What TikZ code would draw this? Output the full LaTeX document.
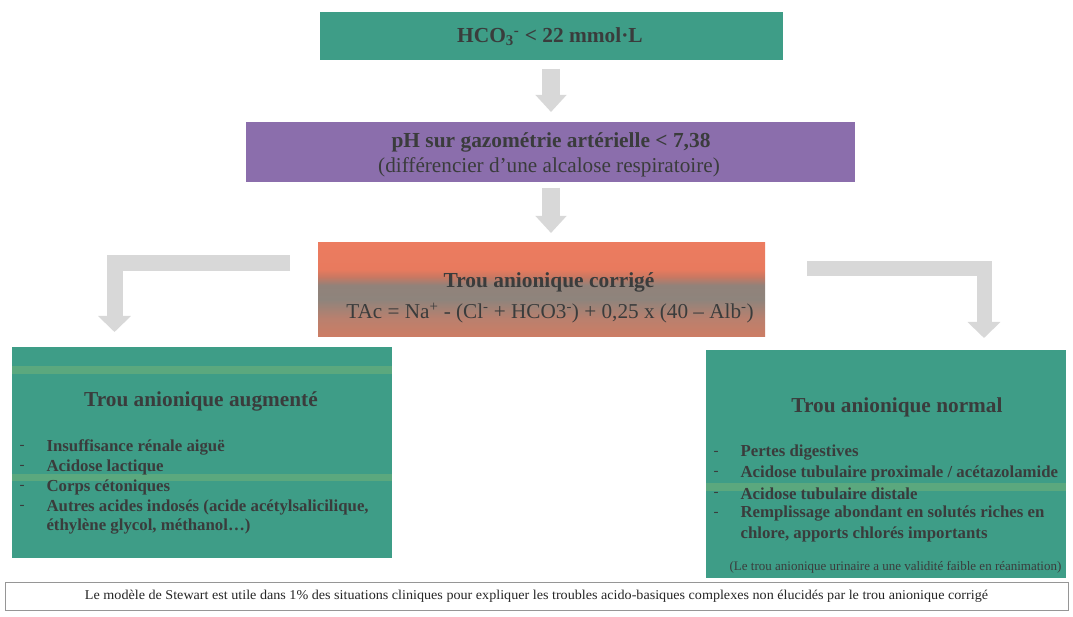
\documentclass[tikz,border=0pt]{standalone}
\usepackage{fontspec}
\setmainfont{Liberation Serif}
\usetikzlibrary{arrows.meta,positioning}
\definecolor{teal1}{RGB}{62,157,135}
\definecolor{band}{RGB}{115,178,120}
\definecolor{purp}{RGB}{139,110,172}
\definecolor{txt}{RGB}{58,60,60}
\definecolor{arrowgray}{RGB}{216,216,216}
\definecolor{borderg}{RGB}{150,150,150}
\definecolor{sh0}{RGB}{205,125,100}
\definecolor{sh1}{RGB}{185,128,110}
\definecolor{sh2}{RGB}{142,132,124}
\definecolor{sh3}{RGB}{145,130,122}
\definecolor{sh4}{RGB}{200,120,98}
\definecolor{sh5}{RGB}{232,122,94}
\definecolor{sh6}{RGB}{236,124,96}
\pgfdeclareverticalshading{tacshade}{100bp}{%
  color(0bp)=(sh0);
  color(25bp)=(sh0);
  color(35bp)=(sh1);
  color(45bp)=(sh2);
  color(52.5bp)=(sh3);
  color(57bp)=(sh4);
  color(61bp)=(sh5);
  color(75bp)=(sh6);
  color(100bp)=(sh6)}
\begin{document}
\begin{tikzpicture}[x=1pt,y=-1pt,
  box/.style={draw=none,inner sep=0pt,outer sep=0pt,text=txt},
  blockarrow/.style={draw=arrowgray,line width=18pt,line join=miter,
    -{Triangle[width=30pt,length=17pt]}},
  sidearrow/.style={draw=arrowgray,line width=16pt,line join=miter,
    -{Triangle[width=32pt,length=16pt]}},
  ttl/.style={font=\fontsize{21.4}{24}\selectfont\bfseries,text=txt},
  sub/.style={font=\fontsize{21.2}{24}\selectfont,text=txt},
  item/.style={font=\fontsize{16.8}{20}\selectfont\bfseries,text=txt,anchor=west},
  dashmark/.style={font=\fontsize{15}{20}\selectfont,text=txt,anchor=west},
  bigttl/.style={font=\fontsize{21.3}{24}\selectfont\bfseries,text=txt}]
\useasboundingbox (0,0) rectangle (1073,617);
\fill[white] (0,0) rectangle (1073,617);

% Box 1
\node[box,fill=teal1,minimum width=463pt,minimum height=48pt] (b1) at (551.5,36) {};
\node[ttl] (t1) at (550,37) {HCO\textsubscript{3}\textsuperscript{-} < 22 mmol·L};

% Box 2
\node[box,fill=purp,minimum width=609pt,minimum height=60pt] (b2) at (550.5,152) {};
\node[ttl] (t2a) at (551,142) {pH sur gazométrie artérielle < 7,38};
\node[sub] (t2b) at (549,167) {(différencier d'une alcalose respiratoire)};

% Box 3
\node[box,shading=tacshade,minimum width=447pt,minimum height=94pt] (b3) at (541.5,290) {};
\node[ttl] (t3a) at (549,282) {Trou anionique corrigé};
\node[sub] (t3b) at (550,313) {TAc = Na\textsuperscript{+} - (Cl\textsuperscript{-} + HCO3\textsuperscript{-}) + 0,25 x (40 – Alb\textsuperscript{-})};

% Left box
\node[box,fill=teal1,minimum width=380pt,minimum height=211pt] (bl) at (202,452.5) {};
\fill[band,opacity=0.55] (12,366) rectangle (392,374);
\fill[band,opacity=0.55] (12,474) rectangle (392,481);
\node[bigttl] (tl) at (201,401) {Trou anionique augmenté};
\foreach \yy/\tt [count=\i] in {447/{Insuffisance rénale aiguë},467/{Acidose lactique},487/{Corps cétoniques},507/{Autres acides indosés (acide acétylsalicilique,}}{
  \node[dashmark] (ld\i) at (16,\yy) {-};
  \node[item] (li\i) at (43,\yy) {\tt};
}
\node[item] (li5) at (43,527) {éthylène glycol, méthanol…)};

% Right box
\node[box,fill=teal1,minimum width=360pt,minimum height=228pt] (br) at (886,464) {};
\fill[band,opacity=0.55] (706,483) rectangle (1066,491);
\node[bigttl] (tr) at (897,407) {Trou anionique normal};
\foreach \yy/\tt [count=\i] in {453/{Pertes digestives},473/{Acidose tubulaire proximale / acétazolamide},494/{Acidose tubulaire distale},514/{Remplissage abondant en solutés riches en}}{
  \node[dashmark] (rd\i) at (710,\yy) {-};
  \node[item] (ri\i) at (737,\yy) {\tt};
}
\node[item] (ri5) at (737,534) {chlore, apports chlorés importants};
\node[font=\fontsize{13}{15}\selectfont,text=txt] (rn) at (895.5,567) {(Le trou anionique urinaire a une validité faible en réanimation)};

% Bottom note
\node[box,draw=borderg,line width=0.6pt,minimum width=1063pt,minimum height=28pt] (bn) at (536.5,596) {};
\node[font=\fontsize{13.5}{15}\selectfont,text=black!85] (tn) at (536.5,596)
  {\resizebox{903pt}{\height}{Le modèle de Stewart est utile dans 1\% des situations cliniques pour expliquer les troubles acido-basiques complexes non élucidés par le trou anionique corrigé}};

% Arrows
\draw[blockarrow,shorten <=9pt,shorten >=10pt] (b1.south -| 551,0) -- (b2.north -| 551,0);
\draw[blockarrow,shorten <=6pt,shorten >=10pt] (b2.south -| 551,0) -- (b3.north -| 551,0);
\coordinate (lls) at (290,263);
\coordinate (lle) at (114.5,332);
\draw[sidearrow] (lls) -| (lle);
\coordinate (rrs) at (807,269);
\coordinate (rre) at (984,338);
\draw[sidearrow,line width=15pt] (rrs) -| (rre);
\end{tikzpicture}
\end{document}
